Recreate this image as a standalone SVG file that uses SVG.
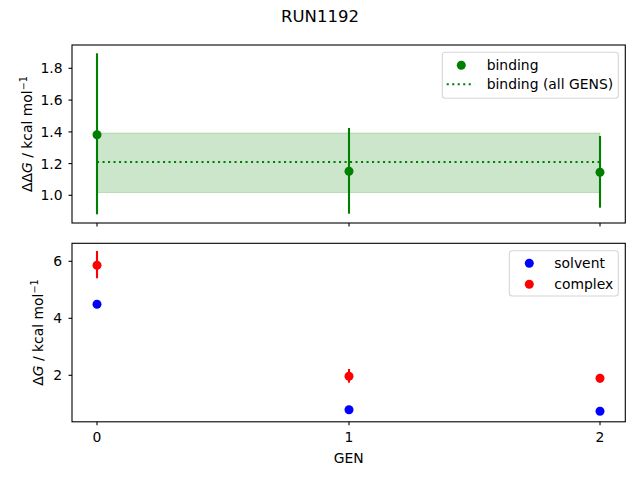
<svg xmlns="http://www.w3.org/2000/svg" width="640" height="480" viewBox="0 0 640 480">
<style>
text{font-family:"DejaVu Sans","Liberation Sans",sans-serif;font-size:13.9px;fill:#000}
.title{font-size:16.5px}
.spine{fill:none;stroke:#000;stroke-width:1.1}
.tick{stroke:#000;stroke-width:1.1}
.eg{stroke:#008000;stroke-width:2.1}
.er{stroke:#ff0000;stroke-width:2.1}
.legend{fill:#fff;fill-opacity:0.8;stroke:#d6d6d6;stroke-width:1.1}
.it{font-style:italic}
.sup{font-size:9.7px}
</style>
<rect width="640" height="480" fill="#fff"/>
<text class="title" x="320" y="21.7" text-anchor="middle">RUN1192</text>

<g id="top-axes">
  <rect x="97" y="133" width="503" height="59.5" fill="#008000" fill-opacity="0.2" stroke="#008000" stroke-opacity="0.2" stroke-width="1"/>
  <line x1="97" y1="162" x2="600" y2="162" stroke="#008000" stroke-width="2.1" stroke-dasharray="2.1,3.4"/>
  <g id="binding-points">
    <line class="eg" x1="97" y1="53.3" x2="97" y2="214.3"/>
    <line class="eg" x1="349" y1="128" x2="349" y2="213.7"/>
    <line class="eg" x1="600" y1="136" x2="600" y2="207.7"/>
    <circle cx="97" cy="134.7" r="4.5" fill="#008000"/>
    <circle cx="349" cy="171.3" r="4.5" fill="#008000"/>
    <circle cx="600" cy="172.3" r="4.5" fill="#008000"/>
  </g>
  <rect class="spine" x="72" y="45" width="553.3" height="178"/>
  <g id="top-ticks">
    <line class="tick" x1="68.5" y1="68.3" x2="72" y2="68.3"/>
    <line class="tick" x1="68.5" y1="100.1" x2="72" y2="100.1"/>
    <line class="tick" x1="68.5" y1="131.9" x2="72" y2="131.9"/>
    <line class="tick" x1="68.5" y1="163.6" x2="72" y2="163.6"/>
    <line class="tick" x1="68.5" y1="195.3" x2="72" y2="195.3"/>
    <line class="tick" x1="97" y1="223" x2="97" y2="226.5"/>
    <line class="tick" x1="349" y1="223" x2="349" y2="226.5"/>
    <line class="tick" x1="600" y1="223" x2="600" y2="226.5"/>
    <text x="62.5" y="73.3" text-anchor="end">1.8</text>
    <text x="62.5" y="105.1" text-anchor="end">1.6</text>
    <text x="62.5" y="136.9" text-anchor="end">1.4</text>
    <text x="62.5" y="168.6" text-anchor="end">1.2</text>
    <text x="62.5" y="200.3" text-anchor="end">1.0</text>
  </g>
  <text transform="translate(31.5,134) rotate(-90)" text-anchor="middle">ΔΔ<tspan class="it">G</tspan> / kcal mol<tspan class="sup" dy="-5">−1</tspan></text>
  <g id="top-legend">
    <rect class="legend" x="442.3" y="52.3" width="176" height="46" rx="3"/>
    <circle cx="461.3" cy="65.3" r="4.5" fill="#008000"/>
    <text x="486.7" y="70.3">binding</text>
    <line x1="446.7" y1="84.3" x2="474.3" y2="84.3" stroke="#008000" stroke-width="2.1" stroke-dasharray="2.1,3.4"/>
    <text x="486.7" y="89.3">binding (all GENS)</text>
  </g>
</g>

<g id="bottom-axes">
  <g id="complex-points">
    <line class="er" x1="97" y1="251" x2="97" y2="278.3"/>
    <line class="er" x1="349" y1="369" x2="349" y2="382.7"/>
    <line class="er" x1="600" y1="374" x2="600" y2="382.5"/>
    <circle cx="97" cy="265.3" r="4.5" fill="#ff0000"/>
    <circle cx="349" cy="376.3" r="4.5" fill="#ff0000"/>
    <circle cx="600" cy="378.3" r="4.5" fill="#ff0000"/>
  </g>
  <g id="solvent-points">
    <circle cx="97" cy="304.3" r="4.5" fill="#0000ff"/>
    <circle cx="349" cy="409.7" r="4.5" fill="#0000ff"/>
    <circle cx="600" cy="411.3" r="4.5" fill="#0000ff"/>
  </g>
  <rect class="spine" x="72" y="243.3" width="553.3" height="178.5"/>
  <g id="bottom-ticks">
    <line class="tick" x1="68.5" y1="261.3" x2="72" y2="261.3"/>
    <line class="tick" x1="68.5" y1="318.3" x2="72" y2="318.3"/>
    <line class="tick" x1="68.5" y1="375.3" x2="72" y2="375.3"/>
    <text x="62" y="266.3" text-anchor="end">6</text>
    <text x="62" y="323.3" text-anchor="end">4</text>
    <text x="62" y="380.3" text-anchor="end">2</text>
    <line class="tick" x1="97" y1="421.8" x2="97" y2="425.3"/>
    <line class="tick" x1="349" y1="421.8" x2="349" y2="425.3"/>
    <line class="tick" x1="600" y1="421.8" x2="600" y2="425.3"/>
    <text x="97" y="442.3" text-anchor="middle">0</text>
    <text x="349" y="442.3" text-anchor="middle">1</text>
    <text x="600" y="442.3" text-anchor="middle">2</text>
  </g>
  <text x="348.6" y="462.7" text-anchor="middle">GEN</text>
  <text transform="translate(42.5,332.5) rotate(-90)" text-anchor="middle">Δ<tspan class="it">G</tspan> / kcal mol<tspan class="sup" dy="-5">−1</tspan></text>
  <g id="bottom-legend">
    <rect class="legend" x="509.3" y="250.7" width="109" height="45.3" rx="3"/>
    <circle cx="529.3" cy="263.3" r="4.5" fill="#0000ff"/>
    <text x="554.3" y="268.3">solvent</text>
    <circle cx="529.3" cy="284.3" r="4.5" fill="#ff0000"/>
    <text x="554.3" y="289.3">complex</text>
  </g>
</g>
</svg>
